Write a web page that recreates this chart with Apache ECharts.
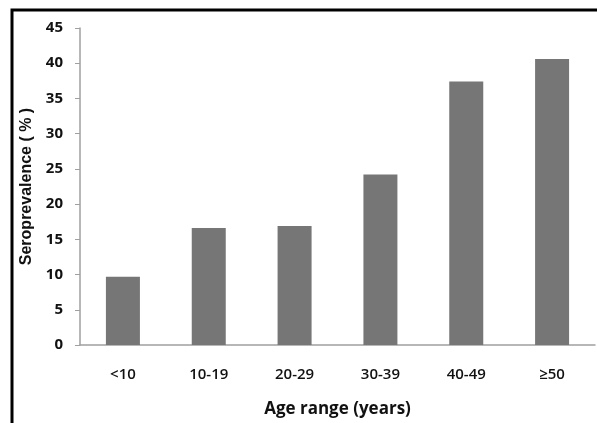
<!DOCTYPE html>
<html>
<head>
<meta charset="utf-8">
<script src="https://cdn.jsdelivr.net/npm/echarts@6/dist/echarts.min.js"></script>
<style>
html,body{margin:0;padding:0;background:#fff;}
#chart{width:597px;height:423px;}
</style>
</head>
<body>
<div id="chart"></div>
<script>
const categories = ['<10', '10-19', '20-29', '30-39', '40-49', '≥50'];
const seroprevalence = [9.7, 16.6, 16.9, 24.2, 37.4, 40.6];
const yTicks = { min: 0, max: 45, interval: 5 };
const xTitle = 'Age range (years)';
const yTitle = 'Seroprevalence ( % )';

const chart = echarts.init(document.getElementById('chart'), null, { renderer: 'canvas' });
chart.setOption({
  animation: false,
  backgroundColor: '#fff',
  graphic: [{
    type: 'rect',
    shape: { x: 12, y: 10, width: 800, height: 600 },
    style: { fill: 'none', stroke: '#000', lineWidth: 3 },
    silent: true
  }],
  grid: { left: 80, right: 2, top: 28, bottom: 74 },
  xAxis: {
    type: 'category',
    data: categories,
    name: xTitle,
    nameLocation: 'middle',
    nameGap: 56,
    nameTextStyle: { fontFamily: 'Open Sans', fontWeight: 'bold', fontSize: 17, color: '#111' },
    axisLine: { lineStyle: { color: '#a0a0a0', width: 1.5 } },
    axisTick: { show: false },
    axisLabel: { fontFamily: 'Open Sans', fontWeight: 600, fontSize: 15, color: '#111', margin: 22 }
  },
  yAxis: {
    type: 'value',
    min: yTicks.min, max: yTicks.max, interval: yTicks.interval,
    name: yTitle,
    nameLocation: 'middle',
    nameGap: 45,
    nameTextStyle: { fontFamily: 'Liberation Sans', fontWeight: 'bold', fontSize: 16, color: '#111' },
    axisLine: { show: true, lineStyle: { color: '#a0a0a0', width: 1.5 } },
    axisTick: { show: true, length: 5, lineStyle: { color: '#a0a0a0' } },
    splitLine: { show: false },
    axisLabel: { fontFamily: 'Open Sans', fontWeight: 'bold', fontSize: 15, color: '#111', margin: 17 }
  },
  series: [{
    type: 'bar',
    data: seroprevalence,
    barWidth: 34,
    itemStyle: { color: '#767676' }
  }]
});
</script>
</body>
</html>
